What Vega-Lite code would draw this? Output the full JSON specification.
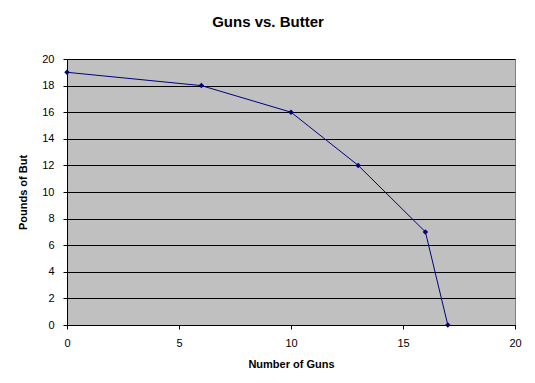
{
  "$schema": "https://vega.github.io/schema/vega-lite/v6.json",
  "autosize": "none",
  "width": 448,
  "height": 266,
  "padding": {"left": 67, "top": 59, "right": 20, "bottom": 58},
  "background": "white",
  "title": {
    "text": "Guns vs. Butter",
    "font": "Liberation Sans",
    "fontSize": 15,
    "fontWeight": "bold",
    "color": "black",
    "anchor": "middle",
    "dx": -23,
    "offset": 23
  },
  "config": {
    "view": {"fill": "#C0C0C0", "stroke": "#808080", "strokeWidth": 1},
    "axis": {
      "labelFont": "Liberation Sans",
      "labelFontSize": 11,
      "labelColor": "black",
      "titleFont": "Liberation Sans",
      "titleFontSize": 11,
      "titleFontWeight": "bold",
      "titleColor": "black",
      "domainColor": "black",
      "tickColor": "black",
      "tickSize": 4,
      "labelFlush": false
    }
  },
  "data": {
    "values": [
      {"guns": 0, "butter": 19},
      {"guns": 6, "butter": 18},
      {"guns": 10, "butter": 16},
      {"guns": 13, "butter": 12},
      {"guns": 16, "butter": 7},
      {"guns": 17, "butter": 0}
    ]
  },
  "mark": {"type": "line", "color": "#000080", "strokeWidth": 1, "point": {"shape": "diamond", "size": 30, "filled": true, "color": "#000080"}},
  "encoding": {
    "x": {
      "field": "guns",
      "type": "quantitative",
      "scale": {"domain": [0, 20], "nice": false},
      "axis": {"title": "Number of Guns", "values": [0, 5, 10, 15, 20], "grid": false, "labelPadding": 8, "titlePadding": 10}
    },
    "y": {
      "field": "butter",
      "type": "quantitative",
      "scale": {"domain": [0, 20], "nice": false},
      "axis": {"title": "Pounds of But", "values": [0, 2, 4, 6, 8, 10, 12, 14, 16, 18, 20], "grid": true, "gridColor": "black", "gridOpacity": 1, "labelPadding": 9, "titlePadding": 13}
    }
  }
}
